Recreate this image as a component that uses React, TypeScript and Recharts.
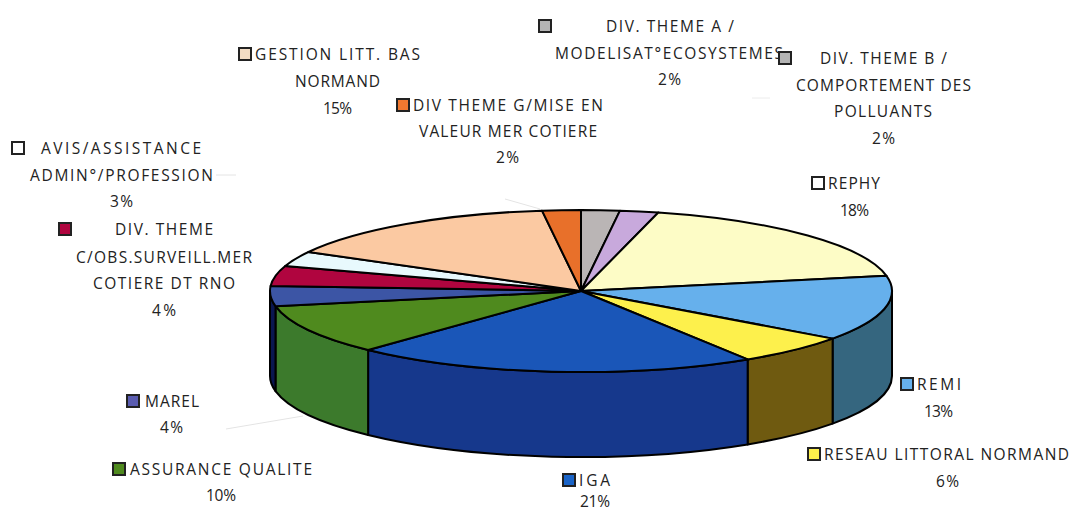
import React from 'react';
import { PieChart, Pie } from 'recharts';

// Slices run clockwise from twelve o'clock
const categories = [
  'DIV. THEME A',
  'DIV. THEME B',
  'REPHY',
  'REMI',
  'RESEAU LITTORAL NORMAND',
  'IGA',
  'ASSURANCE QUALITE',
  'MAREL',
  'DIV. THEME C',
  'AVIS/ASSISTANCE',
  'GESTION LITT. BAS NORMAND',
  'DIV THEME G',
];
const values = [2, 2, 18, 13, 6, 21, 10, 4, 4, 3, 15, 2];
const labelLines = [
  ['DIV. THEME A /', 'MODELISAT°ECOSYSTEMES'],
  ['DIV. THEME B /', 'COMPORTEMENT DES', 'POLLUANTS'],
  ['REPHY'],
  ['REMI'],
  ['RESEAU LITTORAL NORMAND'],
  ['IGA'],
  ['ASSURANCE QUALITE'],
  ['MAREL'],
  ['DIV. THEME', 'C/OBS.SURVEILL.MER', 'COTIERE DT RNO'],
  ['AVIS/ASSISTANCE', 'ADMIN°/PROFESSION'],
  ['GESTION LITT. BAS', 'NORMAND'],
  ['DIV THEME G/MISE EN', 'VALEUR MER COTIERE'],
];

const topColors = [
  '#bab5b5', '#c8a9dc', '#fdfcc6', '#66b0ec', '#fdf04c', '#1a56b8',
  '#4f8a1e', '#3c55a5', '#b0053f', '#e8f9fd', '#fbc9a2', '#e8702a',
];
const wallColors = [
  '#7d7979', '#85709a', '#a9a884', '#35667f', '#6f5a10', '#16388c',
  '#3c7a2c', '#0a1650', '#75022a', '#9aa6a9', '#a8866c', '#9b4b1c',
];
const keyColors = [
  '#b4b4b4', '#b4b4b4', '#ffffff', '#66b0ec', '#fdf04c', '#1a64c8',
  '#4f8a1e', '#5a5cb0', '#b0053f', '#ffffff', '#f2dcc4', '#f07830',
];

// Where each label block sits: key square centre, then [x, y, width] per text row, percent row last
const labelPlaces: { key: [number, number]; rows: [number, number, number][] }[] = [
  { key: [545, 26], rows: [[606, 26, 128], [555, 53, 228], [658, 79, 23]] },
  { key: [785, 58], rows: [[820, 58, 127], [796, 85, 175], [834, 111, 98], [872, 138, 23]] },
  { key: [818, 183], rows: [[828, 183, 52], [840, 210, 29]] },
  { key: [907, 384], rows: [[917, 384, 44], [924, 411, 29]] },
  { key: [814, 454], rows: [[824, 454, 245], [936, 481, 23]] },
  { key: [569, 480], rows: [[579, 480, 31], [580, 501, 30]] },
  { key: [119, 469], rows: [[130, 469, 182], [206, 495, 30]] },
  { key: [133, 401], rows: [[145, 401, 54], [160, 427, 23]] },
  { key: [65, 229], rows: [[115, 229, 98], [76, 257, 176], [93, 283, 142], [152, 310, 24]] },
  { key: [18, 148], rows: [[41, 148, 160], [30, 175, 183], [110, 201, 23]] },
  { key: [245, 54], rows: [[255, 54, 165], [295, 81, 85], [323, 108, 29]] },
  { key: [403, 105], rows: [[413, 105, 190], [419, 131, 178], [496, 157, 23]] },
];

const data = categories.map((name, i) => ({ name, value: values[i] }));

const TILT = 81 / 311;
const DEPTH = 85;
const rad = Math.PI / 180;

function rimPoint(cx: number, cy: number, r: number, angle: number) {
  return [cx + r * Math.cos(angle * rad), cy - r * TILT * Math.sin(angle * rad)];
}

// Draws a pie sector as a flattened top face plus the part of its rim wall facing the viewer
function Slice3D(props: any) {
  const { cx, cy, outerRadius: r, startAngle, endAngle, index } = props;
  const rx = r;
  const ry = r * TILT;
  const [x0, y0] = rimPoint(cx, cy, r, startAngle);
  const [x1, y1] = rimPoint(cx, cy, r, endAngle);
  const large = startAngle - endAngle > 180 ? 1 : 0;
  const top = `M${cx},${cy} L${x0},${y0} A${rx},${ry} 0 ${large} 1 ${x1},${y1} Z`;

  // front half of the rim is angles 0 to -180 going clockwise
  const wallStart = Math.min(startAngle, 0);
  const wallEnd = Math.max(endAngle, -180);
  let wall = null;
  if (wallStart > wallEnd) {
    const [wx0, wy0] = rimPoint(cx, cy, r, wallStart);
    const [wx1, wy1] = rimPoint(cx, cy, r, wallEnd);
    const d =
      `M${wx0},${wy0} A${rx},${ry} 0 0 1 ${wx1},${wy1} L${wx1},${wy1 + DEPTH} ` +
      `A${rx},${ry} 0 0 0 ${wx0},${wy0 + DEPTH} Z`;
    wall = <path d={d} fill={wallColors[index]} stroke="#000" strokeWidth={2} strokeLinejoin="round" />;
  }

  return (
    <g>
      {wall}
      <path d={top} fill={topColors[index]} stroke="#000" strokeWidth={2} strokeLinejoin="round" />
    </g>
  );
}

function SliceLabel({ index }: any) {
  const place = labelPlaces[index];
  const texts = [...labelLines[index], `${values[index]}%`];
  return (
    <g>
      <rect
        x={place.key[0] - 6}
        y={place.key[1] - 6}
        width={12}
        height={12}
        fill={keyColors[index]}
        stroke="#222"
        strokeWidth={2}
      />
      {texts.map((t, i) => {
        const [x, y, w] = place.rows[i];
        return (
          <text
            key={i}
            x={x}
            y={y}
            dy="0.36em"
            textLength={w}
            fontFamily="'Open Sans', sans-serif"
            fontSize={15.5}
            fill="#222"
          >
            {t}
          </text>
        );
      })}
    </g>
  );
}

export default function App() {
  return (
    <div style={{ position: 'absolute', left: 0, top: 0, background: '#fff' }}>
      <PieChart width={1070} height={512} margin={{ top: 0, right: 0, bottom: 0, left: 0 }}>
        <defs>
          <radialGradient id="wallSpot">
            <stop offset="0%" stopColor="#c9b84a" stopOpacity={0.9} />
            <stop offset="100%" stopColor="#c9b84a" stopOpacity={0} />
          </radialGradient>
        </defs>
        {/* faint leader lines */}
        <line x1={216} y1={175} x2={236} y2={175} stroke="#e4e4e4" />
        <line x1={226} y1={429} x2={303} y2={416} stroke="#e4e4e4" />
        <line x1={505} y1={199} x2={540} y2={209} stroke="#e4e4e4" />
        <line x1={752} y1={98} x2={770} y2={98} stroke="#ececec" />
        <Pie
          data={data}
          dataKey="value"
          nameKey="name"
          cx={581}
          cy={291}
          innerRadius={0}
          outerRadius={311}
          startAngle={90}
          endAngle={-270}
          paddingAngle={0}
          shape={Slice3D}
          label={SliceLabel}
          labelLine={false}
          isAnimationActive={false}
        />
        <circle cx={319} cy={401} r={9} fill="url(#wallSpot)" />
      </PieChart>
    </div>
  );
}
